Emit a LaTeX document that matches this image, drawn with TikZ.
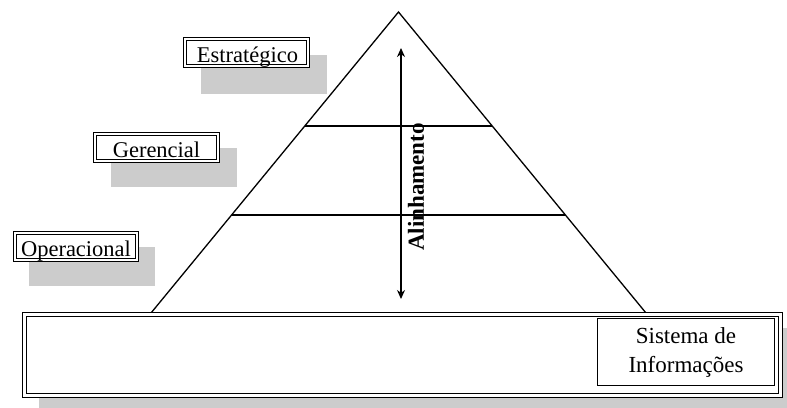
\documentclass[tikz,border=0pt]{standalone}
\usepackage{fontspec}
\setmainfont{Liberation Serif}
\usetikzlibrary{arrows.meta,calc}
\tikzset{
  lvl/.style={fill=white, minimum width=125pt, minimum height=29pt, inner sep=0pt},
  lvltext/.style={anchor=base, inner sep=0pt, font=\fontsize{22.5}{24}\selectfont},
  shade/.style={fill=black!20, draw=none},
  pyr/.style={line width=1.3pt},
  outerln/.style={draw, line width=1.3pt},
  innerln/.style={draw, line width=0.7pt},
}
\newcommand{\dblframe}[2]{%
  \draw[outerln] (#1.north west) rectangle (#1.south east);
  \draw[innerln] ($(#1.north west)+(#2,#2)$) rectangle ($(#1.south east)+(-#2,-#2)$);}
\begin{document}
\begin{tikzpicture}[x=1pt,y=-1pt]
\useasboundingbox (0,0) rectangle (787,407);
% shadows
\fill[shade] (201,55) rectangle (327,94);
\fill[shade] (111,148) rectangle (237,187);
\fill[shade] (29,247) rectangle (155,286);
\fill[shade] (39,328) rectangle (790,410);
% level boxes
\node[lvl] (est) at (246.5,52.5) {};
\dblframe{est}{3}
\node[lvltext] (esttxt) at ($(est.south)+(1,-4.5)$) {Estratégico};
\node[lvl] (ger) at (156.5,147.5) {};
\dblframe{ger}{3}
\node[lvltext] (gertxt) at ($(ger.south)+(0,-4.5)$) {Gerencial};
\node[lvl] (ope) at (76,246.5) {};
\dblframe{ope}{3}
\node[lvltext] (opetxt) at ($(ope.south)+(0,-4.5)$) {Operacional};
% pyramid
\coordinate (apex) at (398.5,12);
\coordinate (bl) at (151,313);
\coordinate (br) at (646,313);
\draw[pyr, line join=miter] (bl) -- (apex) -- (br);
\coordinate (l1a) at ($(apex)!0.3787!(bl)$);
\coordinate (l1b) at ($(apex)!0.3787!(br)$);
\coordinate (l2a) at ($(apex)!0.6744!(bl)$);
\coordinate (l2b) at ($(apex)!0.6744!(br)$);
\draw[pyr] (l1a) -- (l1b);
\draw[pyr] (l2a) -- (l2b);
% base box
\node[fill=white, minimum width=759pt, minimum height=84pt, inner sep=0pt] (base) at (402.5,355) {};
\dblframe{base}{3.5}
\node[draw, line width=0.7pt, fill=white, minimum width=177pt, minimum height=67pt, inner sep=0pt] (sis) at (685.5,351.5) {};
\node[align=center, inner sep=0pt, font=\fontsize{23}{29}\selectfont] (sistxt) at (686,352.5) {Sistema de\\Informações};
% alignment arrow
\coordinate (atop) at (401,48);
\coordinate (abot) at (401,299);
\draw[line width=1.4pt, {Stealth[length=9pt,width=8pt]}-{Stealth[length=9pt,width=8pt]}] (atop) -- (abot);
\node[rotate=90, font=\fontsize{23}{24}\selectfont\bfseries] (alin) at (416,187) {Alinhamento};
\end{tikzpicture}
\end{document}
